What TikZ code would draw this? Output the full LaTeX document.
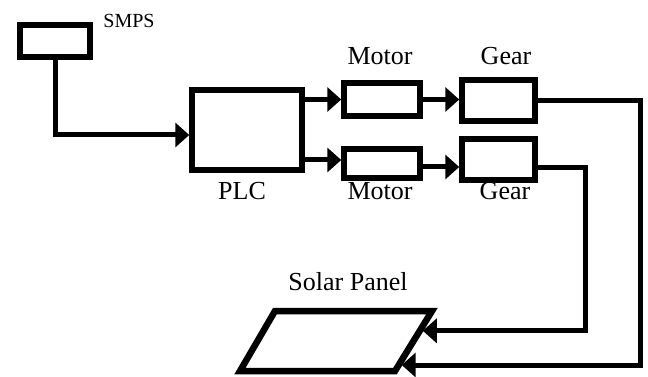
\documentclass[tikz,border=0pt]{standalone}
\usepackage{fontspec}
\setmainfont{Liberation Serif}
\usetikzlibrary{arrows.meta, positioning, calc}

\tikzset{
  blk/.style={draw, line width=5.5pt, inner sep=0pt},
  conn/.style={line width=5pt},
  tip/.style={-{Triangle[length=14pt,width=24pt]}},
  lbl/.style={font=\fontsize{26}{30}\selectfont, anchor=base, inner sep=0pt},
}

\begin{document}
\begin{tikzpicture}[x=1pt, y=-1pt]
  \useasboundingbox (0,0) rectangle (648,377);

  % blocks
  \node (smps)   [blk, minimum width=70pt, minimum height=32pt]  at (55,41)      {};
  \node (plc)    [blk, minimum width=110pt, minimum height=80pt] at (247,130)    {};
  \node (motorA) [blk, minimum width=76pt, minimum height=33pt]  at (382,99.5)   {};
  \node (motorB) [blk, minimum width=76pt, minimum height=29pt]  at (382,163.5)  {};
  \node (gearA)  [blk, minimum width=73pt, minimum height=41pt]  at (498.5,100.5) {};
  \node (gearB)  [blk, minimum width=73pt, minimum height=41pt]  at (498.5,159.5) {};

  % labels
  \node (smpslbl)   [lbl, font=\fontsize{20}{24}\selectfont] at (129,28) {SMPS};
  \node (motorAlbl) [lbl] at (380,65)  {Motor};
  \node (gearAlbl)  [lbl] at (506,65)  {Gear};
  \node (plclbl)    [lbl] at (242,200) {PLC};
  \node (motorBlbl) [lbl] at (380,200) {Motor};
  \node (gearBlbl)  [lbl] at (505,200) {Gear};
  \node (panellbl)  [lbl] at (348,290) {Solar Panel};

  % solar panel corners and inputs
  \coordinate (panelTL) at (275,311);
  \coordinate (panelTR) at (432,311);
  \coordinate (panelBR) at (395,371);
  \coordinate (panelBL) at (240,371);
  \coordinate (panelinTop) at ($(panelTR)!0.33!(panelBR)+(3,0)$);
  \coordinate (panelinBot) at ($(panelTR)!0.9!(panelBR)+(3,0)$);

  % rails and offset ports
  \coordinate (railA) at (640,0);
  \coordinate (railB) at (585,0);
  \coordinate (motorBin)  at ([yshift=3.5pt]motorB.west);
  \coordinate (motorBout) at ([yshift=-3.5pt]motorB.east);
  \coordinate (gearBout)  at ([yshift=-8.5pt]gearB.east);

  \draw[conn, tip] (smps.south) |- ([yshift=-5pt]plc.west);
  \draw[conn, tip] (plc.east |- motorA.west) -- (motorA.west);
  \draw[conn, tip] (plc.east |- motorBin) -- (motorBin);
  \draw[conn, tip] (motorA.east) -- (motorA.east -| gearA.west);
  \draw[conn, tip] (motorBout) -- (motorBout -| gearB.west);
  \draw[conn, tip] (gearA.east) -- (gearA.east -| railA) |- (panelinBot);
  \draw[conn, tip] (gearBout) -- (gearBout -| railB) |- (panelinTop);

  \draw[line width=6.5pt, fill=white] (panelTL) -- (panelTR) -- (panelBR) -- (panelBL) -- cycle;
\end{tikzpicture}
\end{document}
